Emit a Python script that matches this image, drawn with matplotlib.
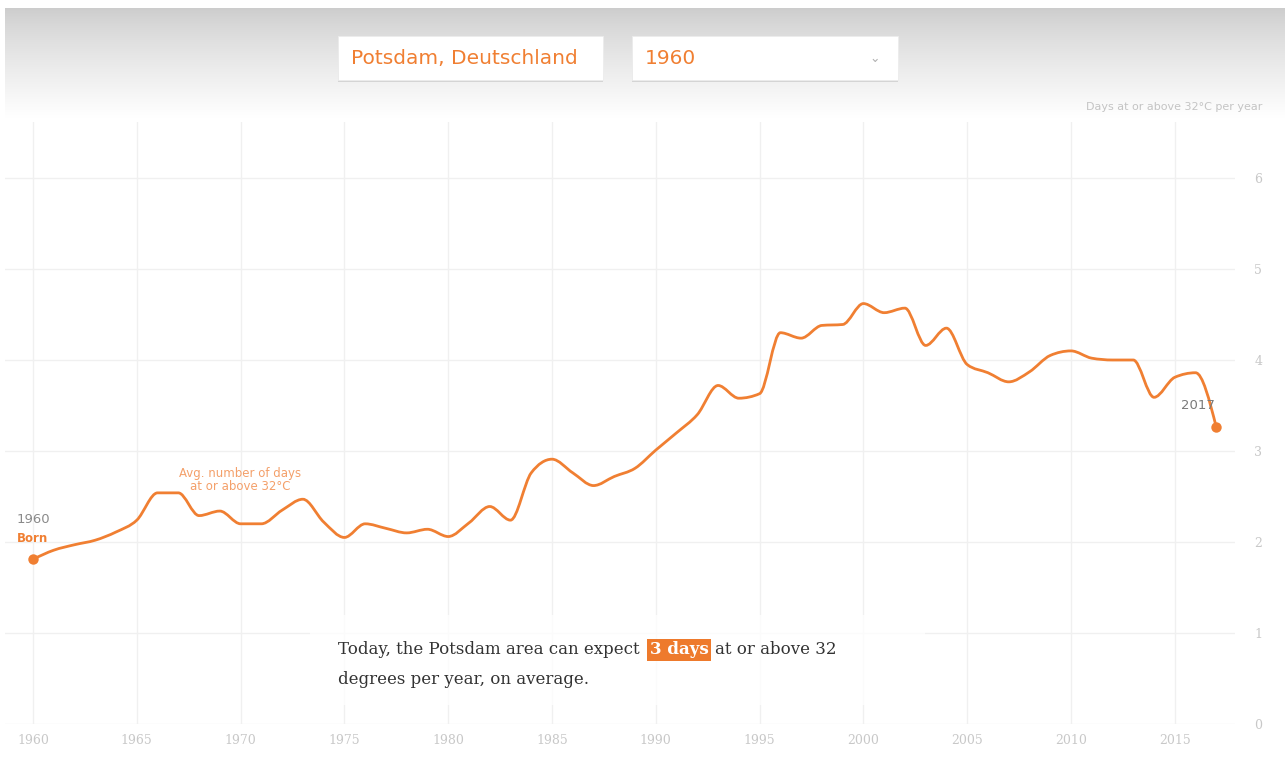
import numpy as np
import matplotlib
matplotlib.use("Agg")
import matplotlib.pyplot as plt
from matplotlib.path import Path
from matplotlib.patches import PathPatch, Rectangle

# ---------------- data ----------------
years = list(range(1960, 2018))
days = [1.81, 1.91, 1.97, 2.02, 2.11, 2.24, 2.54, 2.54, 2.29, 2.34,
        2.20, 2.20, 2.35, 2.47, 2.22, 2.05, 2.20, 2.15, 2.10, 2.14,
        2.06, 2.21, 2.39, 2.24, 2.76, 2.91, 2.76, 2.62, 2.72, 2.81,
        3.01, 3.20, 3.40, 3.72, 3.58, 3.63, 4.30, 4.24, 4.38, 4.39,
        4.62, 4.52, 4.57, 4.16, 4.35, 3.95, 3.86, 3.76, 3.87, 4.05,
        4.10, 4.02, 4.00, 4.00, 3.59, 3.81, 3.86, 3.26]
xtick_years = list(range(1960, 2016, 5))
ytick_vals = [0, 1, 2, 3, 4, 5, 6]
location_label = "Potsdam, Deutschland"
birth_year_label = "1960"
last_year_label = "2017"

ORANGE = "#f07f32"
W, H = 1285, 784
serif = ["DejaVu Serif"]

fig = plt.figure(figsize=(W / 100, H / 100), dpi=100)
fig.patch.set_facecolor("white")

# ---------------- header gradient ----------------
bg = fig.add_axes([5 / W, 1 - 118 / H, 1 - 5 / W, 110 / H], zorder=0)
grad = np.linspace(0.0, 1.0, 200).reshape(-1, 1) ** 0.8
top = np.array([0.80, 0.80, 0.80])
bot = np.array([1.0, 1.0, 1.0])
img = top[None, None, :] * (1 - grad[..., None]) + bot[None, None, :] * grad[..., None]
img = np.clip(img, 0, 1)
bg.imshow(img, aspect="auto", extent=[0, 1, 0, 1], origin="upper")
bg.set_axis_off()

# ---------------- main axes ----------------
ax_left, ax_right = 5, 1235
ax_top, ax_bot = 122, 724
ax = fig.add_axes([ax_left / W, 1 - ax_bot / H, (ax_right - ax_left) / W, (ax_bot - ax_top) / H], zorder=2)
ax.patch.set_alpha(0)
px_per_year = 20.76
ax.set_xlim(1960 - (33 - ax_left) / px_per_year, 1960 + (ax_right - 33) / px_per_year)
ax.set_ylim(0, (ax_bot - ax_top) / 91.0)
for s in ax.spines.values():
    s.set_visible(False)

ax.set_xticks(xtick_years)
ax.set_xticklabels([str(y) for y in xtick_years], family=serif)
ax.set_yticks(ytick_vals)
ax.set_yticklabels([str(v) for v in ytick_vals], family=serif)
ax.yaxis.tick_right()
ax.tick_params(axis="x", length=0, pad=7, labelsize=9, labelcolor="#c8c8c8")
ax.tick_params(axis="y", length=0, pad=14, labelsize=9, labelcolor="#c8c8c8")
ax.grid(True, color="#f0f0f0", linewidth=1.0)
ax.set_axisbelow(True)

# translucent white panel behind the sentence (hides gridlines)
panel = Rectangle((310 / W, 1 - 705 / H), 615 / W, 90 / H, transform=fig.transFigure,
                  facecolor="white", edgecolor="none", alpha=0.8, zorder=3)
fig.add_artist(panel)

# ---------------- monotone-x curve (as Bezier path) ----------------
x = np.array(years, dtype=float)
y = np.array(days, dtype=float)
n = len(x)
h = np.diff(x)
s = np.diff(y) / h
t = np.zeros(n)
for i in range(1, n - 1):
    p = (s[i - 1] * h[i] + s[i] * h[i - 1]) / (h[i - 1] + h[i])
    t[i] = (np.sign(s[i - 1]) + np.sign(s[i])) * min(abs(s[i - 1]), abs(s[i]), 0.5 * abs(p))
t[0] = (3 * s[0] - t[1]) / 2
t[-1] = (3 * s[-1] - t[-2]) / 2
verts = [(x[0], y[0])]
codes = [Path.MOVETO]
for i in range(n - 1):
    dx = h[i] / 3
    verts += [(x[i] + dx, y[i] + dx * t[i]), (x[i + 1] - dx, y[i + 1] - dx * t[i + 1]), (x[i + 1], y[i + 1])]
    codes += [Path.CURVE4] * 3
ax.add_patch(PathPatch(Path(verts, codes), facecolor="none", edgecolor=ORANGE,
                       linewidth=2.0, capstyle="round", joinstyle="round", zorder=4))
ax.plot([years[0], years[-1]], [days[0], days[-1]], "o", color=ORANGE, markersize=7.5,
        markeredgewidth=0, zorder=5)

# ---------------- annotations ----------------
ax.annotate(birth_year_label, (years[0], days[0]), xytext=(0, 40), textcoords="offset pixels",
            ha="center", va="center", fontsize=9.5, color="#8a8a8a", zorder=6)
ax.annotate("Born", (years[0], days[0]), xytext=(0, 21), textcoords="offset pixels",
            ha="center", va="center", fontsize=8.5, color=ORANGE, fontweight="bold", zorder=6)
ax.annotate(last_year_label, (years[-1], days[-1]), xytext=(-18, 22), textcoords="offset pixels",
            ha="center", va="center", fontsize=9.5, color="#7a7a7a", zorder=6)
fig.text(240 / W, 1 - 480 / H, "Avg. number of days\nat or above 32°C", ha="center", va="center",
         fontsize=8.5, color="#f4a06a", linespacing=0.9, zorder=6)

fig.text(1262 / W, 1 - 107 / H, "Days at or above 32°C per year", ha="right", va="center",
         fontsize=8, color="#c4c4c4")

# ---------------- header boxes ----------------
def header_box(x0, x1, label, chevron=False):
    shadow = Rectangle((x0 / W, 1 - 82 / H), (x1 - x0) / W, 45 / H, transform=fig.transFigure,
                       facecolor="#d4d4d4", edgecolor="none", zorder=5)
    box = Rectangle((x0 / W, 1 - 80 / H), (x1 - x0) / W, 44 / H, transform=fig.transFigure,
                    facecolor="white", edgecolor="#ececec", linewidth=0.6, zorder=6)
    fig.add_artist(shadow)
    fig.add_artist(box)
    fig.text((x0 + 13) / W, 1 - 58.5 / H, label, ha="left", va="center", fontsize=14.5,
             color=ORANGE, zorder=7)
    if chevron:
        fig.text((x1 - 23) / W, 1 - 58 / H, "⌄", ha="center", va="center", fontsize=9,
                 color="#b0b0b0", zorder=7)

header_box(338, 603, location_label)
header_box(632, 898, birth_year_label, chevron=True)

# ---------------- sentence with highlight ----------------
fig.canvas.draw()
r = fig.canvas.get_renderer()
fs = 12.0
y1 = 1 - 650 / H
y2 = 1 - 679 / H
t1 = fig.text(338 / W, y1, "Today, the Potsdam area can expect", ha="left", va="center",
              fontsize=fs, color="#333333", family=serif, zorder=7)
bb1 = t1.get_window_extent(r)
t2 = fig.text((bb1.x1 + 10) / W, y1, "3 days", ha="left", va="center", fontsize=fs,
              color="white", fontweight="bold", family=serif, zorder=8,
              bbox=dict(boxstyle="square,pad=0.15", facecolor="#ee7a2c", edgecolor="none"))
bb2 = t2.get_window_extent(r)
fig.text((bb2.x1 + 7) / W, y1, "at or above 32", ha="left", va="center", fontsize=fs,
         color="#333333", family=serif, zorder=7)
fig.text(338 / W, y2, "degrees per year, on average.", ha="left", va="center", fontsize=fs,
         color="#333333", family=serif, zorder=7)

fig.savefig("out.png", dpi=100, facecolor="white")
